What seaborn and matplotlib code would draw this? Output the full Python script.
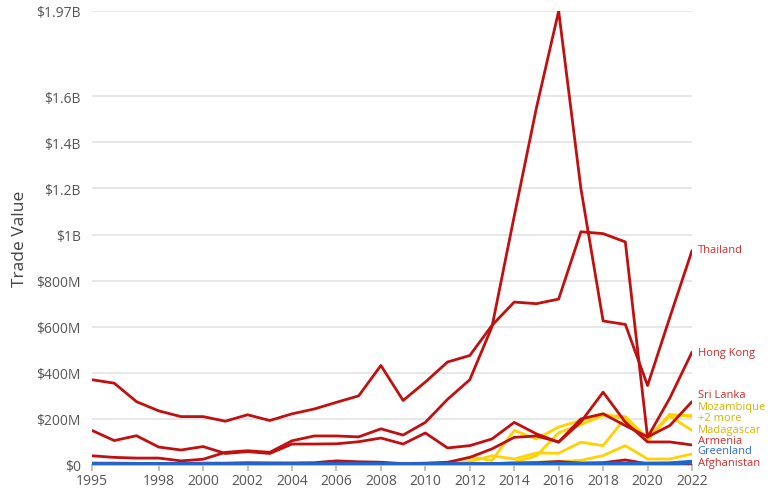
import matplotlib
matplotlib.use("Agg")
import matplotlib.pyplot as plt
import seaborn as sns
import pandas as pd

# Years on the x axis
years = list(range(1995, 2023))

# Trade values in millions of USD
thailand = [40, 33, 30, 30, 18, 25, 55, 62, 55, 105, 126, 126, 122, 157, 130, 185,
            285, 370, 600, 1080, 1550, 1970, 1200, 625, 610, 345, 640, 930]
hong_kong = [370, 355, 275, 235, 210, 210, 190, 218, 193, 222, 243, 272, 300, 432,
             280, 360, 447, 475, 606, 707, 700, 720, 1012, 1004, 968, 120, 290, 490]
sri_lanka = [8, 8, 7, 7, 7, 8, 8, 10, 9, 9, 10, 18, 14, 12, 6, 8,
             12, 33, 70, 120, 126, 100, 200, 222, 171, 122, 171, 275]
armenia = [150, 106, 127, 78, 65, 80, 50, 58, 50, 91, 91, 92, 101, 117, 91, 139,
           74, 84, 113, 185, 135, 99, 187, 316, 186, 100, 100, 87]
afghanistan = [2, 2, 2, 2, 2, 3, 3, 3, 3, 4, 5, 8, 6, 5, 3, 3,
               3, 4, 6, 8, 10, 15, 8, 10, 22, 5, 6, 5]
mozambique = [1, 1, 1, 1, 1, 1, 1, 1, 1, 1, 1, 1, 1, 1, 2, 2,
              5, 35, 20, 150, 113, 165, 193, 222, 200, 120, 215, 215]
madagascar = [1, 1, 1, 1, 1, 1, 1, 1, 1, 1, 1, 1, 1, 1, 1, 1,
              1, 2, 5, 12, 40, 140, 175, 215, 210, 115, 212, 150]
other_a = [0, 0, 0, 0, 0, 0, 0, 0, 0, 0, 0, 0, 0, 0, 1, 1,
           3, 15, 40, 26, 52, 51, 99, 84, 205, 106, 220, 210]
other_b = [0, 0, 0, 0, 0, 0, 0, 0, 0, 0, 0, 0, 0, 0, 0, 0,
           1, 2, 3, 10, 12, 15, 20, 41, 84, 26, 26, 48]
greenland = [3, 3, 3, 3, 3, 3, 3, 3, 3, 3, 3, 3, 3, 3, 3, 3,
             3, 3, 3, 4, 4, 4, 4, 5, 5, 5, 6, 13]

series = {
    "Thailand": thailand,
    "Hong Kong": hong_kong,
    "Sri Lanka": sri_lanka,
    "Armenia": armenia,
    "Afghanistan": afghanistan,
    "Mozambique": mozambique,
    "Madagascar": madagascar,
    "Other A": other_a,
    "Other B": other_b,
    "Greenland": greenland,
}

red = "#c0100f"
yellow = "#ffd200"
blue = "#1f66d1"
palette = {
    "Thailand": red, "Hong Kong": red, "Sri Lanka": red, "Armenia": red,
    "Afghanistan": red, "Mozambique": yellow, "Madagascar": yellow,
    "Other A": yellow, "Other B": yellow, "Greenland": blue,
}

df = pd.concat(
    [pd.DataFrame({"year": years, "value": vals, "country": name})
     for name, vals in series.items()],
    ignore_index=True,
)

sns.set_theme(style="white")
plt.rcParams["font.family"] = ["Open Sans", "DejaVu Sans"]

fig = plt.figure(figsize=(7.76, 5.02), dpi=100)
ax = fig.add_axes([92 / 776, 36 / 502, 600 / 776, 454 / 502])

# draw yellow first, then red, blue on top
order = ["Other B", "Other A", "Madagascar", "Mozambique",
         "Afghanistan", "Sri Lanka", "Armenia", "Hong Kong", "Thailand", "Greenland"]
for name in order:
    sub = df[df["country"] == name]
    sns.lineplot(data=sub, x="year", y="value", color=palette[name],
                 linewidth=3.2 if name == "Greenland" else 2.0,
                 ax=ax, legend=False, zorder=3)

ax.set_xlim(1995, 2022)
ax.set_ylim(0, 1970)
yticks = [0, 200, 400, 600, 800, 1000, 1200, 1400, 1600, 1970]
ytick_labels = ["$0", "$200M", "$400M", "$600M", "$800M", "$1B",
                "$1.2B", "$1.4B", "$1.6B", "$1.97B"]
ax.set_yticks(yticks)
ax.set_yticklabels(ytick_labels)
xticks = [1995, 1998, 2000, 2002, 2004, 2006, 2008, 2010, 2012, 2014,
          2016, 2018, 2020, 2022]
ax.set_xticks(xticks)
ax.set_xticklabels([str(x) for x in xticks])

ax.grid(axis="y", color="#e3e3e3", linewidth=1.2)
ax.grid(axis="x", visible=False)
for side in ["top", "right", "left"]:
    ax.spines[side].set_visible(False)
ax.spines["bottom"].set_color("#b8b8b8")
ax.tick_params(axis="x", colors="#555555", labelsize=10, length=4,
               bottom=True, color="#b8b8b8", pad=2)
ax.tick_params(axis="y", colors="#555555", labelsize=10, length=0, pad=8)
ax.set_xlabel("")
ax.set_ylabel("Trade Value", fontsize=12.5, color="#444444", labelpad=6)

# end labels, stacked so they do not overlap
end_labels = [
    ("Thailand", 933, "#d42a2a"),
    ("Hong Kong", 490, "#d42a2a"),
    ("Sri Lanka", 304, "#d42a2a"),
    ("Mozambique", 252, "#d9b400"),
    ("+2 more", 204, "#d9b400"),
    ("Madagascar", 156, "#d9b400"),
    ("Armenia", 108, "#d42a2a"),
    ("Greenland", 61, "#2a6fd8"),
    ("Afghanistan", 9, "#d42a2a"),
]
for text, ypos, col in end_labels:
    ax.annotate(text, xy=(2022, ypos), xytext=(4, 0), textcoords="offset points",
                va="center", ha="left", fontsize=8, color=col,
                annotation_clip=False)

fig.savefig("out.png", dpi=100)
